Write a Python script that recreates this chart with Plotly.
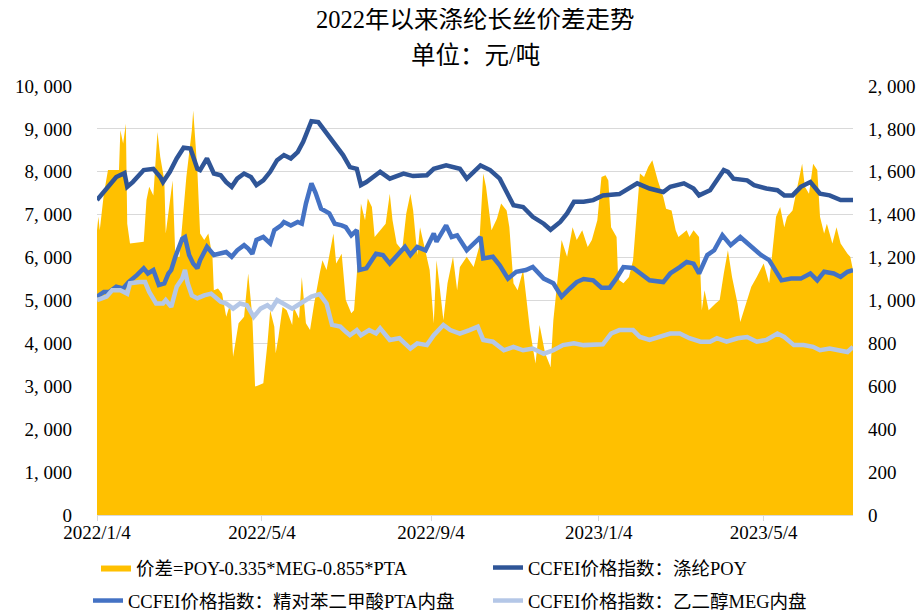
import plotly.graph_objects as go

# ---------------- data ----------------
poy_dates = ["2022-01-04","2022-01-11","2022-01-18","2022-01-24","2022-01-26","2022-01-30","2022-02-07","2022-02-14","2022-02-19","2022-02-21",
             "2022-02-26","2022-03-03","2022-03-08","2022-03-13","2022-03-18","2022-03-20","2022-03-25","2022-03-30","2022-04-04","2022-04-08",
             "2022-04-12","2022-04-16","2022-04-21","2022-04-26","2022-04-30","2022-05-05","2022-05-10","2022-05-15","2022-05-20","2022-05-25",
             "2022-05-30","2022-06-03","2022-06-06","2022-06-09","2022-06-14","2022-06-20","2022-06-25","2022-07-02","2022-07-07","2022-07-12",
             "2022-07-15","2022-07-19","2022-07-29","2022-08-05","2022-08-15","2022-08-22","2022-09-01","2022-09-06","2022-09-15","2022-09-25",
             "2022-09-30","2022-10-10","2022-10-17","2022-10-24","2022-10-29","2022-11-03","2022-11-10","2022-11-17","2022-11-25","2022-11-30",
             "2022-12-07","2022-12-12","2022-12-17","2022-12-24","2022-12-31","2023-01-07","2023-01-19","2023-02-01","2023-02-10","2023-02-20",
             "2023-02-25","2023-03-07","2023-03-14","2023-03-18","2023-03-26","2023-04-05","2023-04-08","2023-04-12","2023-04-22","2023-04-27",
             "2023-05-06","2023-05-14","2023-05-19","2023-05-25","2023-05-31","2023-06-07","2023-06-14","2023-06-21","2023-06-29","2023-07-08"]
poy_values = [7340,7610,7880,7970,7650,7760,8040,8070,7880,7760,
              8000,8310,8560,8540,8070,8040,8310,7960,7920,7760,
              7650,7840,7960,7880,7690,7800,8000,8270,8390,8310,
              8460,8700,8930,9180,9160,8890,8660,8390,8110,8070,
              7690,7760,8000,7840,7960,7900,7920,8070,8150,8070,
              7840,8150,8040,7840,7530,7220,7180,6950,6790,6650,
              6830,7030,7300,7300,7340,7450,7480,7730,7610,7530,
              7650,7730,7610,7450,7570,8040,8000,7840,7800,7690,
              7610,7570,7450,7450,7650,7760,7490,7450,7340,7340]

pta_dates = ["2022-01-04","2022-01-09","2022-01-13","2022-01-18","2022-01-23","2022-01-27","2022-02-02","2022-02-07","2022-02-10","2022-02-14",
             "2022-02-18","2022-02-22","2022-02-25","2022-02-27","2022-03-02","2022-03-07","2022-03-09","2022-03-12","2022-03-15","2022-03-18",
             "2022-03-20","2022-03-25","2022-03-30","2022-04-04","2022-04-08","2022-04-12","2022-04-16","2022-04-21","2022-04-24","2022-04-27",
             "2022-04-30","2022-05-05","2022-05-08","2022-05-10","2022-05-13","2022-05-18","2022-05-20","2022-05-25","2022-05-30","2022-06-02",
             "2022-06-05","2022-06-09","2022-06-12","2022-06-16","2022-06-22","2022-06-26","2022-07-01","2022-07-04","2022-07-08","2022-07-12",
             "2022-07-14","2022-07-19","2022-07-26","2022-07-31","2022-08-05","2022-08-12","2022-08-16","2022-08-20","2022-08-25","2022-08-31",
             "2022-09-06","2022-09-08","2022-09-15","2022-09-19","2022-09-23","2022-09-30","2022-10-10","2022-10-12","2022-10-19","2022-10-24",
             "2022-10-30","2022-11-05","2022-11-12","2022-11-17","2022-11-25","2022-12-02","2022-12-08","2022-12-14","2022-12-19","2022-12-24",
             "2022-12-31","2023-01-06","2023-01-12","2023-01-17","2023-01-22","2023-01-29","2023-02-03","2023-02-10","2023-02-20","2023-02-25",
             "2023-03-04","2023-03-09","2023-03-14","2023-03-18","2023-03-24","2023-03-29","2023-04-04","2023-04-10","2023-04-17","2023-04-25",
             "2023-05-02","2023-05-08","2023-05-17","2023-05-24","2023-05-31","2023-06-07","2023-06-12","2023-06-17","2023-06-24","2023-06-29",
             "2023-07-04","2023-07-08"]
pta_values = [5090,5200,5200,5320,5280,5430,5590,5750,5630,5710,
              5360,5400,5630,5710,6020,6440,6480,6060,5860,5750,
              5940,6250,6060,6090,6130,6020,6170,6290,6210,6090,
              6410,6480,6370,6330,6640,6750,6830,6750,6830,6790,
              7260,7730,7510,7140,7030,6790,6750,6710,6520,6640,
              5710,5750,6090,6060,5860,6090,6250,6060,6250,6170,
              6560,6370,6750,6480,6520,6170,6480,5980,6020,5820,
              5510,5670,5710,5780,5510,5400,5090,5280,5430,5500,
              5470,5300,5300,5520,5780,5760,5630,5470,5430,5630,
              5780,5900,5860,5630,6060,6170,6520,6290,6480,6250,
              6060,5940,5470,5510,5510,5630,5470,5670,5630,5550,
              5670,5710]

meg_dates = ["2022-01-04","2022-01-11","2022-01-15","2022-01-21","2022-01-26","2022-01-28","2022-02-04","2022-02-08","2022-02-11","2022-02-16",
             "2022-02-21","2022-02-23","2022-02-27","2022-03-03","2022-03-07","2022-03-09","2022-03-11","2022-03-14","2022-03-18","2022-03-23",
             "2022-03-28","2022-03-31","2022-04-04","2022-04-08","2022-04-13","2022-04-18","2022-04-23","2022-04-28","2022-05-03","2022-05-08",
             "2022-05-11","2022-05-15","2022-05-20","2022-05-26","2022-06-01","2022-06-05","2022-06-09","2022-06-15","2022-06-20","2022-06-24",
             "2022-06-30","2022-07-04","2022-07-07","2022-07-12","2022-07-15","2022-07-21","2022-07-26","2022-07-29","2022-08-05","2022-08-12",
             "2022-08-20","2022-08-25","2022-09-01","2022-09-06","2022-09-13","2022-09-18","2022-09-25","2022-10-02","2022-10-08","2022-10-12",
             "2022-10-19","2022-10-27","2022-11-03","2022-11-10","2022-11-17","2022-11-25","2022-12-02","2022-12-09","2022-12-17","2022-12-24",
             "2022-12-31","2023-01-07","2023-01-13","2023-01-19","2023-01-29","2023-02-03","2023-02-10","2023-02-18","2023-02-25","2023-03-04",
             "2023-03-11","2023-03-19","2023-03-26","2023-03-31","2023-04-07","2023-04-15","2023-04-22","2023-04-29","2023-05-06","2023-05-14",
             "2023-05-19","2023-05-26","2023-06-02","2023-06-09","2023-06-14","2023-06-21","2023-06-29","2023-07-04","2023-07-08"]
meg_values = [5010,5090,5240,5240,5160,5400,5430,5430,5200,4930,
              4930,5010,4850,5320,5510,5710,5400,5120,5050,5120,
              5160,5090,4970,4930,4810,4930,4890,4620,4810,4890,
              4810,5010,4930,4810,4930,5010,5090,5150,4930,4430,
              4390,4270,4190,4310,4190,4310,4230,4350,4080,4120,
              3880,4000,3960,4190,4430,4310,4230,4310,4390,4080,
              4040,3840,3920,3840,3880,3760,3840,3960,4000,3960,
              3960,3980,4230,4310,4310,4150,4080,4150,4230,4230,
              4120,4040,4040,4120,4040,4120,4150,4040,4080,4230,
              4150,3960,3960,3920,3840,3880,3840,3800,3920]

spread_dates = ["2022-01-04","2022-01-05","2022-01-06","2022-01-07","2022-01-09","2022-01-12","2022-01-16","2022-01-20","2022-01-21","2022-01-23",
                "2022-01-25","2022-01-26","2022-01-28","2022-02-07","2022-02-09","2022-02-11","2022-02-14","2022-02-17","2022-02-19","2022-02-22",
                "2022-02-23","2022-02-26","2022-02-28","2022-03-02","2022-03-05","2022-03-10","2022-03-14","2022-03-15","2022-03-18","2022-03-20",
                "2022-03-23","2022-03-26","2022-03-29","2022-03-30","2022-04-02","2022-04-05","2022-04-08","2022-04-11","2022-04-13","2022-04-17",
                "2022-04-21","2022-04-24","2022-04-27","2022-04-29","2022-05-05","2022-05-08","2022-05-10","2022-05-13","2022-05-14","2022-05-16",
                "2022-05-19","2022-05-22","2022-05-26","2022-05-27","2022-05-31","2022-06-02","2022-06-05","2022-06-08","2022-06-11","2022-06-15",
                "2022-06-17","2022-06-20","2022-06-22","2022-06-25","2022-06-27","2022-07-01","2022-07-04","2022-07-08","2022-07-10","2022-07-13",
                "2022-07-15","2022-07-18","2022-07-20","2022-07-23","2022-07-25","2022-07-29","2022-08-02","2022-08-05","2022-08-07","2022-08-10",
                "2022-08-14","2022-08-17","2022-08-20","2022-08-22","2022-08-25","2022-08-27","2022-08-31","2022-09-03","2022-09-06","2022-09-08",
                "2022-09-10","2022-09-13","2022-09-16","2022-09-20","2022-09-23","2022-09-25","2022-09-30","2022-10-05","2022-10-09","2022-10-12",
                "2022-10-14","2022-10-18","2022-10-22","2022-10-25","2022-10-29","2022-10-31","2022-11-03","2022-11-06","2022-11-10","2022-11-15",
                "2022-11-19","2022-11-22","2022-11-26","2022-11-30","2022-12-02","2022-12-06","2022-12-08","2022-12-12","2022-12-16","2022-12-19",
                "2022-12-23","2022-12-27","2022-12-30","2023-01-03","2023-01-06","2023-01-09","2023-01-11","2023-01-13","2023-01-17","2023-01-18",
                "2023-01-19","2023-01-22","2023-01-26","2023-01-29","2023-02-01","2023-02-03","2023-02-06","2023-02-09","2023-02-12","2023-02-14",
                "2023-02-16","2023-02-20","2023-02-22","2023-02-26","2023-03-01","2023-03-03","2023-03-07","2023-03-09","2023-03-11","2023-03-14",
                "2023-03-18","2023-03-20","2023-03-22","2023-03-25","2023-03-30","2023-04-02","2023-04-05","2023-04-08","2023-04-11","2023-04-15",
                "2023-04-17","2023-04-21","2023-04-25","2023-04-29","2023-05-04","2023-05-08","2023-05-10","2023-05-13","2023-05-16","2023-05-19",
                "2023-05-21","2023-05-25","2023-05-28","2023-06-01","2023-06-03","2023-06-06","2023-06-09","2023-06-12","2023-06-14","2023-06-17",
                "2023-06-19","2023-06-23","2023-06-26","2023-06-29","2023-07-04","2023-07-06","2023-07-08"]
spread_values = [1328,1390,1328,1390,1498,1608,1608,1608,1794,1732,
                 1824,1358,1266,1274,1468,1530,1490,1786,1670,1560,
                 1312,1452,1560,1204,1204,1576,1794,1886,1608,1312,
                 1282,1312,1204,1048,1056,1032,924,986,738,894,
                 924,1126,924,598,614,800,954,878,754,830,
                 970,954,886,970,916,1110,894,862,986,1126,
                 1188,1142,1218,1312,1172,1218,1002,940,954,1204,
                 1452,1374,1476,1436,1296,1328,1358,1498,1374,1266,
                 1234,1406,1498,1420,1212,1342,1234,1142,894,1188,
                 1080,908,1080,1204,1048,1156,1204,1156,1250,1592,
                 1530,1328,1382,1452,1420,1342,1080,1048,1142,862,
                 706,886,754,690,908,1142,1282,1204,1342,1282,
                 1328,1250,1282,1374,1576,1584,1560,1342,1296,1126,
                 1094,1080,1110,1188,1420,1592,1576,1622,1654,1608,
                 1560,1482,1428,1420,1328,1296,1320,1328,1296,1328,
                 1296,954,1048,954,986,1002,1126,1234,1110,986,
                 900,986,1064,1110,1172,1080,1204,1390,1436,1342,
                 1390,1420,1514,1638,1530,1498,1638,1608,1390,1312,
                 1358,1266,1342,1266,1218,1204,1142]

series_names = ["价差=POY-0.335*MEG-0.855*PTA", "CCFEI价格指数：涤纶POY",
                "CCFEI价格指数：精对苯二甲酸PTA内盘", "CCFEI价格指数：乙二醇MEG内盘"]

x_tick_vals = ["2022-01-04", "2022-05-04", "2022-09-04", "2023-01-04", "2023-05-04"]
x_tick_text = ["2022/1/4", "2022/5/4", "2022/9/4", "2023/1/4", "2023/5/4"]
left_tick_vals = [0, 1000, 2000, 3000, 4000, 5000, 6000, 7000, 8000, 9000, 10000]
left_tick_text = ["0", "1, 000", "2, 000", "3, 000", "4, 000", "5, 000", "6, 000", "7, 000", "8, 000", "9, 000", "10, 000"]
right_tick_vals = [0, 200, 400, 600, 800, 1000, 1200, 1400, 1600, 1800, 2000]
right_tick_text = ["0", "200", "400", "600", "800", "1, 000", "1, 200", "1, 400", "1, 600", "1, 800", "2, 000"]

title_line1 = "2022年以来涤纶长丝价差走势"
title_line2 = "单位：元/吨"

# ---------------- figure ----------------
# The page has an 8 px body margin, so the figure is drawn 8 px smaller
# and every layout position is expressed relative to the figure itself.
FONT = "Liberation Serif, Noto Sans CJK SC, serif"
FIG_W, FIG_H = 916, 602
ML, MT, MR, MB = 89, 78, 71, 95
PLOT_W = FIG_W - ML - MR
PLOT_H = FIG_H - MT - MB


def py(fig_y):
    """figure-pixel y (from top) -> paper y"""
    return 1 + (MT - fig_y) / PLOT_H


def px(fig_x):
    """figure-pixel x (from left) -> paper x"""
    return (fig_x - ML) / PLOT_W


fig = go.Figure()
fig.add_trace(go.Scatter(x=spread_dates, y=spread_values, name=series_names[0], mode="lines",
                         line=dict(color="#FFC000", width=0), fill="tozeroy", fillcolor="#FFC000",
                         yaxis="y", legend="legend"))
fig.add_trace(go.Scatter(x=poy_dates, y=poy_values, name=series_names[1], mode="lines",
                         line=dict(color="#2F5597", width=4.5), yaxis="y2", legend="legend"))
fig.add_trace(go.Scatter(x=pta_dates, y=pta_values, name=series_names[2], mode="lines",
                         line=dict(color="#4472C4", width=4.5), yaxis="y2", legend="legend2"))
fig.add_trace(go.Scatter(x=meg_dates, y=meg_values, name=series_names[3], mode="lines",
                         line=dict(color="#B4C7E7", width=4.5), yaxis="y2", legend="legend2"))

fig.update_layout(
    width=FIG_W, height=FIG_H,
    margin=dict(l=ML, r=MR, t=MT, b=MB, autoexpand=False),
    paper_bgcolor="white", plot_bgcolor="white",
    font=dict(family=FONT, size=19, color="#000000"),
    xaxis=dict(type="date", range=["2022-01-04", "2023-07-08"], tickvals=x_tick_vals, ticktext=x_tick_text,
               showgrid=False, showline=True, linecolor="#D9D9D9", linewidth=1, automargin=False,
               ticks="outside", ticklen=5, tickcolor="#D9D9D9", tickfont=dict(size=19), zeroline=False,
               ticklabelstandoff=-5),
    yaxis=dict(side="right", range=[0, 2000], tickvals=right_tick_vals, ticktext=right_tick_text,
               showgrid=True, gridcolor="#D9D9D9", gridwidth=1, zeroline=False, showline=False, automargin=False,
               ticklabelstandoff=14, tickfont=dict(size=19)),
    yaxis2=dict(side="left", overlaying="y", range=[0, 10000], tickvals=left_tick_vals, ticktext=left_tick_text,
                showgrid=False, zeroline=False, showline=False, automargin=False,
                ticklabelstandoff=24, tickfont=dict(size=19)),
    legend=dict(orientation="h", x=px(88), xanchor="left", y=py(560), yanchor="middle",
                entrywidth=347, entrywidthmode="pixels", font=dict(size=18.5), bgcolor="rgba(0,0,0,0)"),
    legend2=dict(orientation="h", x=px(80), xanchor="left", y=py(593), yanchor="middle",
                 entrywidth=355, entrywidthmode="pixels", font=dict(size=18.5), bgcolor="rgba(0,0,0,0)"),
    annotations=[
        dict(text=title_line1, x=0.5, xref="paper", y=py(11), yref="paper",
             yanchor="middle", showarrow=False, font=dict(size=24.5, family=FONT)),
        dict(text=title_line2, x=0.5, xref="paper", y=py(48), yref="paper",
             yanchor="middle", showarrow=False, font=dict(size=24.5, family=FONT)),
    ],
    showlegend=True,
)

fig.write_html("out.html")
